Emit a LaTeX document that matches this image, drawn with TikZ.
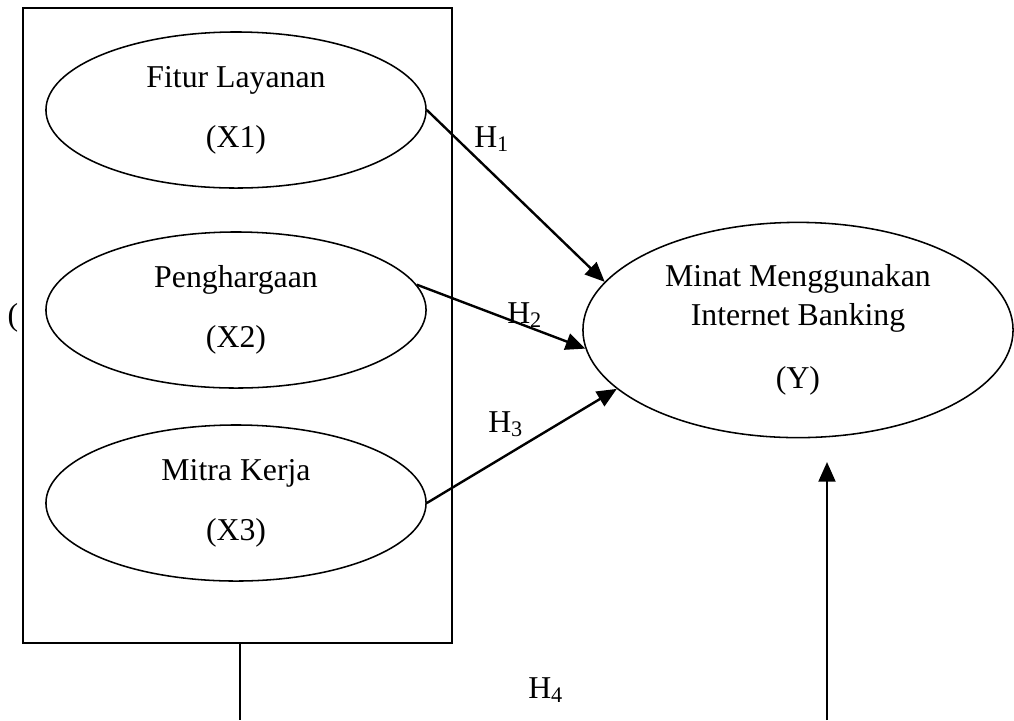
\documentclass[tikz,border=0pt]{standalone}
\usepackage{fontspec}
\setmainfont{Liberation Serif}
\usetikzlibrary{positioning,shapes.geometric,arrows.meta}

\begin{document}
\begin{tikzpicture}[x=0.0125cm,y=-0.0125cm,
  every node/.style={font=\fontsize{11.3}{13.8}\selectfont},
  var/.style={ellipse,draw,line width=0.55pt,inner sep=0pt,align=center,
    minimum width=4.75cm,minimum height=1.95cm},
  hyp/.style={-{Triangle[length=7pt,width=6pt]},line width=0.85pt}]
\useasboundingbox (0,0) rectangle (1014,720);
\draw [line width=0.6pt] (23,8) rectangle (452,643);
\node [var] (x1) at (236,110) {Fitur Layanan\\[7.5pt](X1)};
\node [var] (x2) at (236,310) {Penghargaan\\[7.5pt](X2)};
\node [var] (x3) at (236,503) {Mitra Kerja\\[7.5pt](X3)};
\node [var,minimum width=5.375cm,minimum height=2.69cm] (y) at (798,330)
  {Minat Menggunakan\\Internet Banking\\[8.6pt](Y)};
\node (par) at (13,318) {(};
\coordinate (boxs) at (240,643);
\coordinate (bl) at (240,720);
\coordinate (br) at (827,720);
\coordinate (yin) at (827,462);
\draw [hyp] (x1.east) -- (y.166);
\draw [hyp] (x2.8) -- (y.185);
\draw [hyp] (x3.east) -- (y.198);
\draw [line width=0.85pt] (boxs) -- (bl);
\draw [hyp] (br) -- (yin);
\node (h1) at (492,139) {H\textsubscript{1}};
\node (h2) at (525,315) {H\textsubscript{2}};
\node (h3) at (506,424) {H\textsubscript{3}};
\node (h4) at (546,690) {H\textsubscript{4}};
\end{tikzpicture}
\end{document}
